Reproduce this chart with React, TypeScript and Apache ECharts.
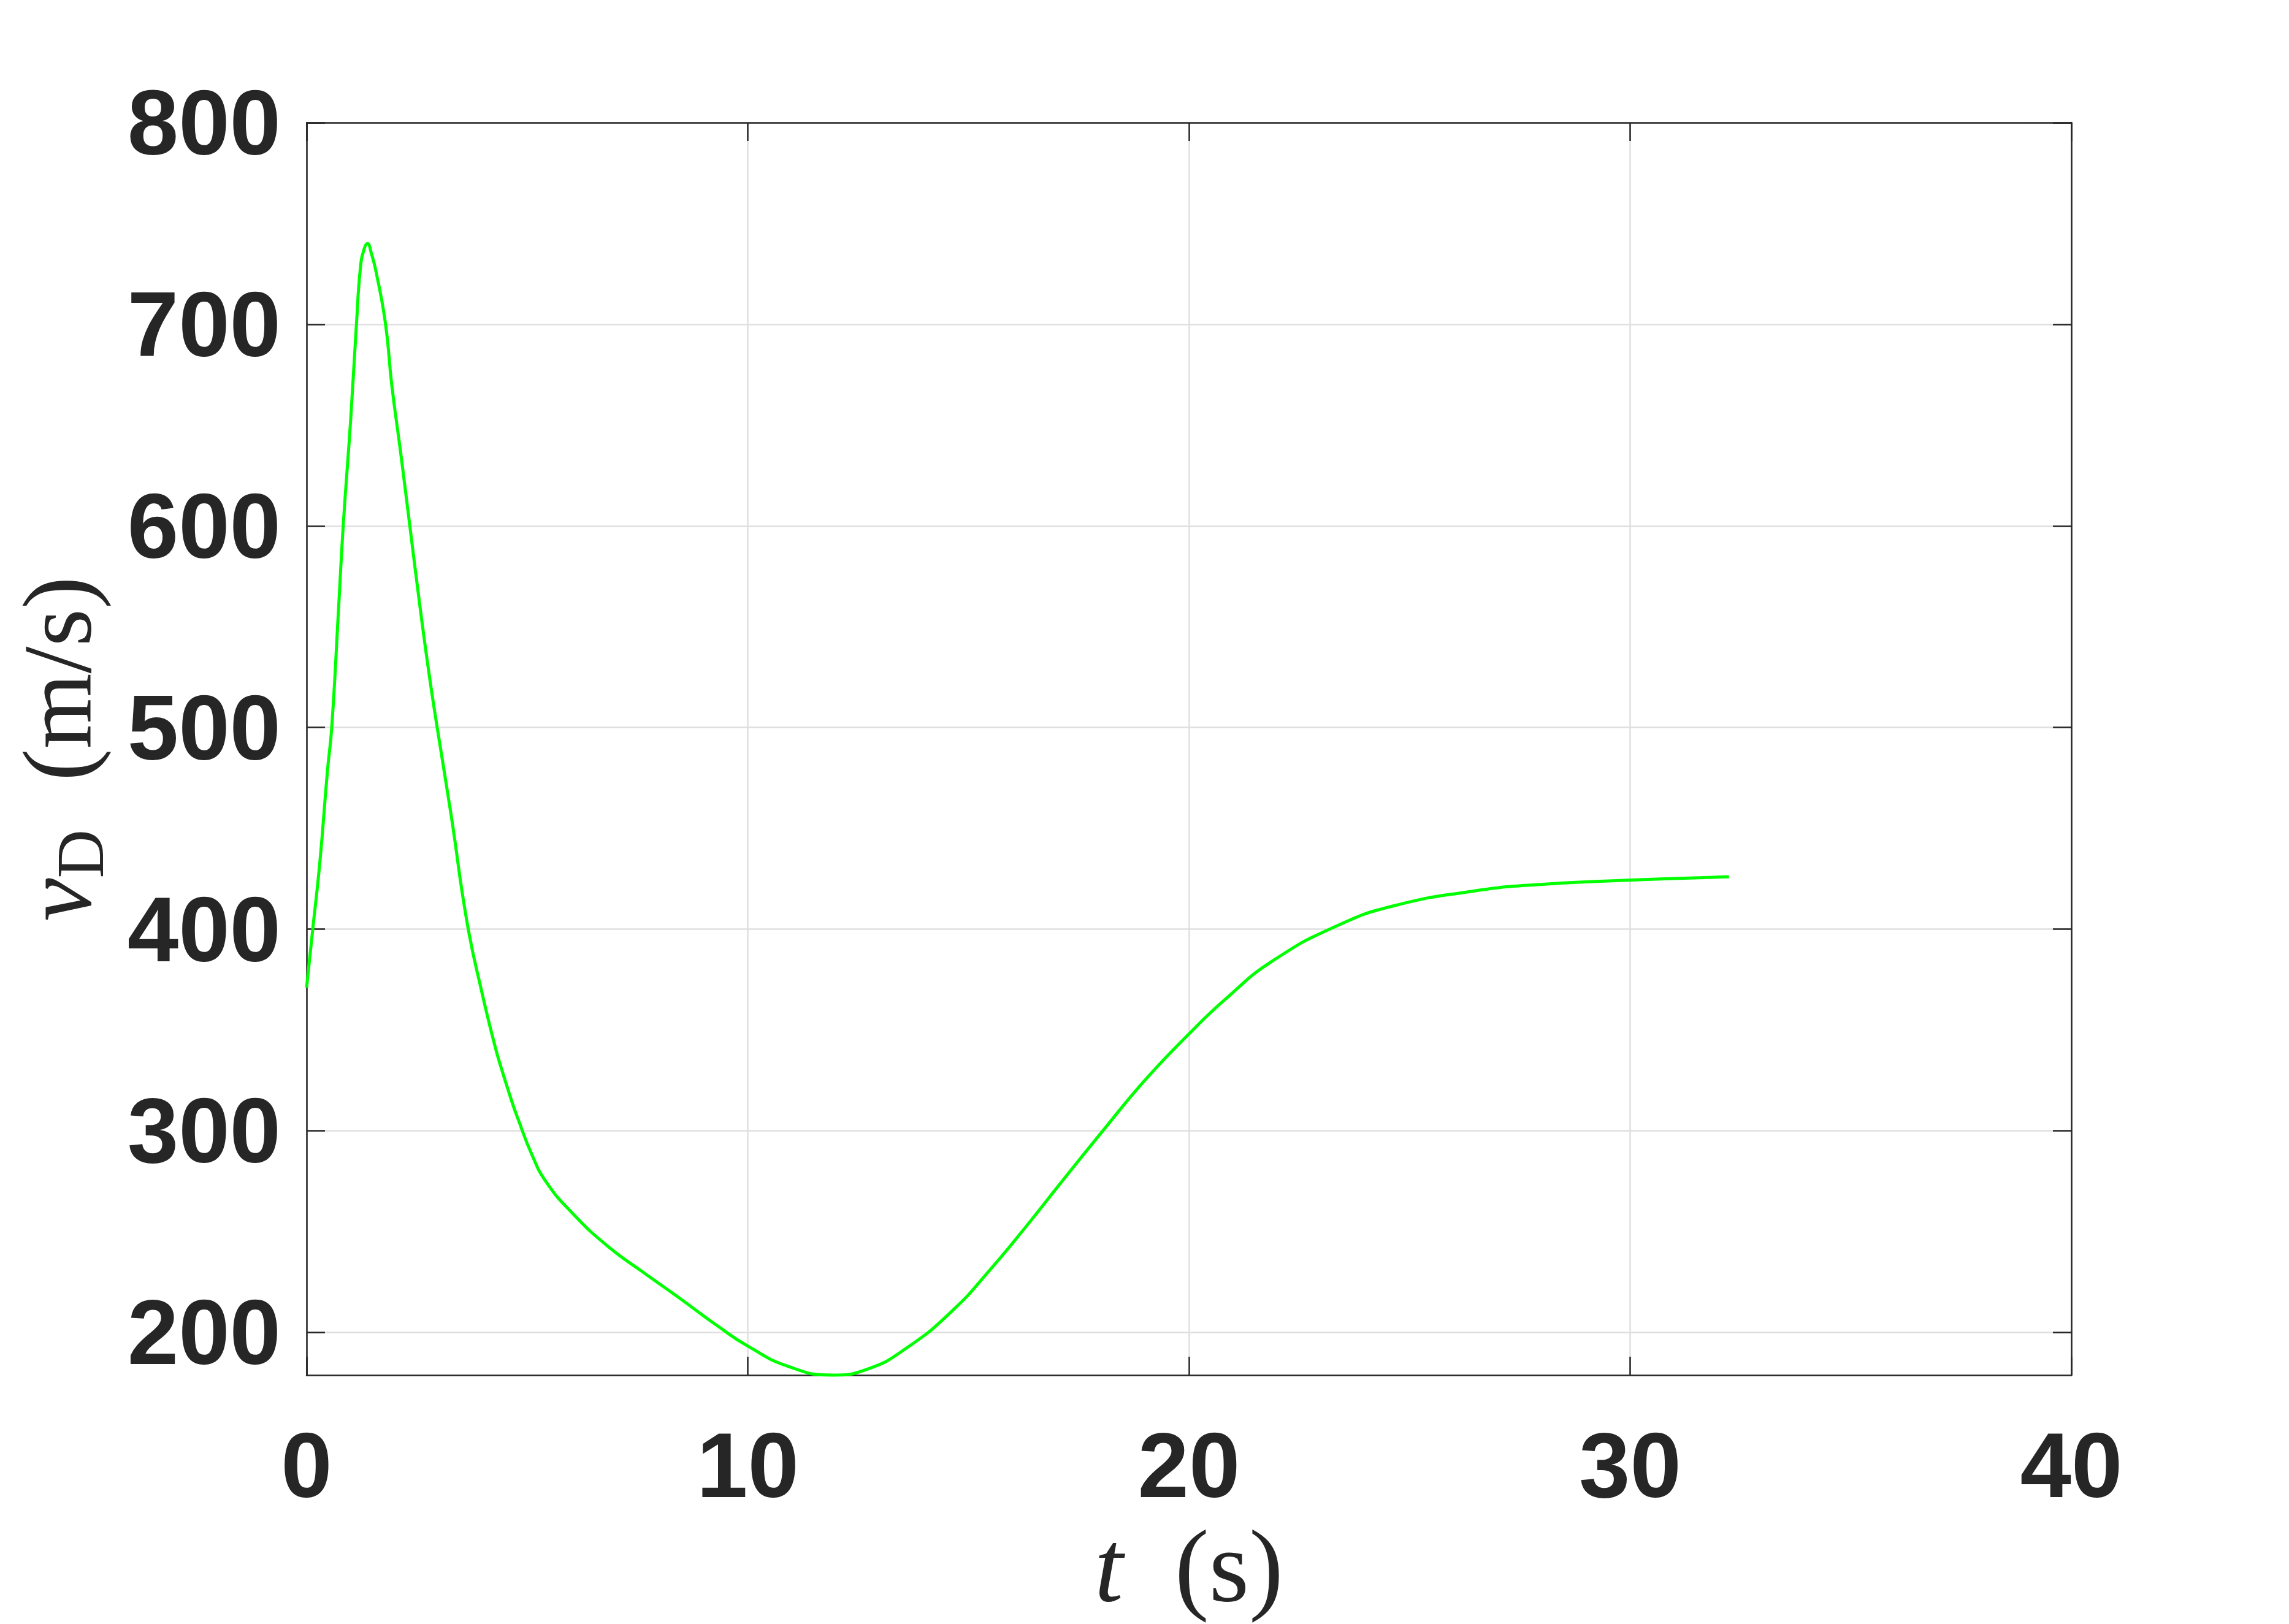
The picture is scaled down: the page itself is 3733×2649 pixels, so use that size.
import React, { useEffect, useRef } from "react";
import * as echarts from "echarts";

// time t (s)
const timeS = [
  0, 0.14, 0.3, 0.475, 0.57, 0.72, 0.83, 1.0, 1.13, 1.22,
  1.3, 1.38, 1.47, 1.575, 1.79, 1.93, 2.14, 2.34, 2.57, 2.78,
  2.96, 3.28, 3.64, 3.98, 4.27, 4.4, 4.66, 4.79, 5.1, 5.43,
  6.03, 6.81, 7.59, 8.44, 9.36, 10.0, 10.92, 11.91, 12.69, 13.61,
  14.65, 15.49, 16.29, 17.09, 18.05, 19.0, 20.0, 20.84, 21.88, 23.39,
  24.67, 26.43, 27.85, 30.02, 32.24,
];

// speed v_D (m/s)
const speedMS = [
  371, 400, 433, 479, 500, 557, 600, 653, 700, 728,
  737, 740, 735, 726, 700, 670, 635, 600, 560, 526,
  500, 456, 403, 368, 342, 332, 314, 306, 288.5, 274.6,
  259, 243, 230.4, 217.2, 202.5, 193.2, 183.1, 178.8, 181.6, 192.4,
  211, 231, 252, 274, 300, 325, 348, 365.5, 384, 402,
  411.7, 418.8, 422, 424.3, 425.9,
];

const xTicks = [0, 10, 20, 30, 40];
const yTicks = [200, 300, 400, 500, 600, 700, 800];

export default function App() {
  const ref = useRef<HTMLDivElement>(null);

  useEffect(() => {
    if (!ref.current) return;
    const chart = echarts.init(ref.current, null, { renderer: "svg" });
    const axisColor = "#262626";
    const gridColor = "#dfdfdf";
    const yMin = Math.min(...speedMS);
    const xMin = xTicks[0];
    const xMax = xTicks[xTicks.length - 1];
    const yMax = yTicks[yTicks.length - 1];
    const xInterval = xTicks[1] - xTicks[0];

    const lineStyle = { color: axisColor, width: 2.5 };
    const tickLabel = {
      fontSize: 150,
      fontWeight: "bold" as const,
      fontFamily: "Liberation Sans",
      color: axisColor,
    };
    const serif = "Liberation Serif";
    const xRich = {
      it: { fontFamily: serif, fontStyle: "italic", fontSize: 168, lineHeight: 140, color: axisColor },
      rm: { fontFamily: serif, fontSize: 168, lineHeight: 140, color: axisColor },
    };
    const yRich = {
      it: { fontFamily: serif, fontStyle: "italic", fontSize: 158, lineHeight: 130, color: axisColor },
      rm: { fontFamily: serif, fontSize: 158, lineHeight: 130, color: axisColor },
      sub: { fontFamily: serif, fontSize: 110, lineHeight: 54, color: axisColor, padding: [76, 0, 0, 0] },
    };

    const data = timeS.map((t, i) => [t, speedMS[i]]);

    chart.setOption({
      animation: false,
      backgroundColor: "#ffffff",
      grid: {
        left: 500,
        right: 355,
        top: 200,
        bottom: 406,
        containLabel: false,
        outerBoundsMode: "none",
        show: false,
      },
      xAxis: [
        {
          type: "value",
          position: "bottom",
          min: xMin,
          max: xMax,
          interval: xInterval,
          axisLine: { show: true, onZero: false, lineStyle },
          axisTick: { show: true, inside: true, length: 30, lineStyle },
          axisLabel: { ...tickLabel, margin: 72 },
          splitLine: { show: true, lineStyle: { color: gridColor, width: 2.5 } },
          name: "{it|t}{rm|\u2002(s)}",
          nameLocation: "middle",
          nameGap: 230,
          nameTextStyle: { rich: xRich, fontFamily: serif, fontSize: 168, lineHeight: 140, color: axisColor },
        },
        {
          type: "value",
          position: "top",
          min: xMin,
          max: xMax,
          interval: xInterval,
          axisLine: { show: true, onZero: false, lineStyle },
          axisTick: { show: true, inside: true, length: 30, lineStyle },
          axisLabel: { show: false },
          splitLine: { show: false },
        },
      ],
      yAxis: [
        {
          type: "value",
          position: "left",
          min: yMin,
          max: yMax,
          axisLine: { show: true, onZero: false, lineStyle },
          axisTick: { show: true, inside: true, length: 30, lineStyle, customValues: yTicks },
          axisLabel: { ...tickLabel, margin: 42, customValues: yTicks },
          splitLine: { show: true, lineStyle: { color: gridColor, width: 2.5 } },
          name: "{it|\u03BD}{sub|D}{rm|\u2002(m/s)}",
          nameLocation: "middle",
          nameRotate: 90,
          nameGap: 342,
          nameTextStyle: { rich: yRich, fontFamily: serif, fontSize: 158, lineHeight: 130, color: axisColor },
        },
        {
          type: "value",
          position: "right",
          min: yMin,
          max: yMax,
          axisLine: { show: true, onZero: false, lineStyle },
          axisTick: { show: true, inside: true, length: 30, lineStyle, customValues: yTicks },
          axisLabel: { show: false, customValues: yTicks },
          splitLine: { show: false },
        },
      ],
      series: [
        {
          type: "line",
          xAxisIndex: 0,
          yAxisIndex: 0,
          data,
          showSymbol: false,
          symbol: "none",
          smooth: 0.5,
          clip: false,
          lineStyle: { color: "#00ff00", width: 5 },
          z: 3,
        },
      ],
    });

    return () => chart.dispose();
  }, []);

  return (
    <div
      ref={ref}
      style={{ position: "fixed", left: 0, top: 0, width: 3733, height: 2649, background: "#ffffff" }}
    />
  );
}
